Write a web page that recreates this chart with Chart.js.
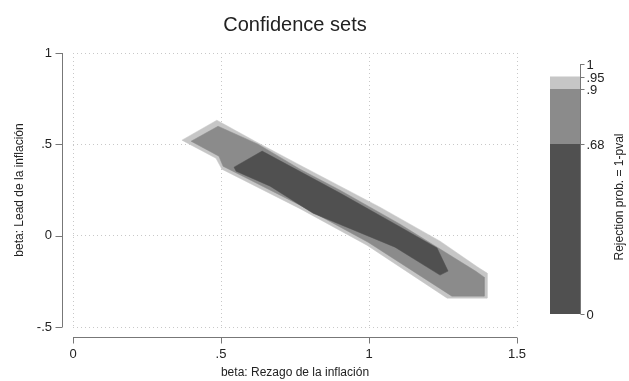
<!DOCTYPE html>
<html>
<head>
<meta charset="utf-8">
<title>Confidence sets</title>
<script src="https://cdn.jsdelivr.net/npm/chart.js@4.4.1/dist/chart.umd.min.js"></script>
<style>
    html, body { margin: 0; padding: 0; background: #fff; }
    #wrap { width: 629px; height: 381px; }
</style>
</head>
<body>
<div id="wrap"><canvas id="confChart" width="629" height="381"></canvas></div>
<script>
// ============================================================
// DATA — outlines of the rejection-probability regions
// (beta lag on x, beta lead on y)
// ============================================================
const band95X = [0.368, 0.486, 0.615, 0.767, 1.037, 1.240, 1.368, 1.399, 1.399, 1.264, 0.993, 0.767, 0.503, 0.483];
const band95Y = [0.523, 0.632, 0.517, 0.386, 0.156, -0.030, -0.173, -0.205, -0.342, -0.342, -0.052, 0.148, 0.364, 0.424];

const band90X = [0.399, 0.490, 0.625, 0.767, 0.902, 1.105, 1.361, 1.389, 1.389, 1.280, 0.997, 0.767, 0.507, 0.493];
const band90Y = [0.517, 0.599, 0.501, 0.364, 0.249, 0.063, -0.195, -0.227, -0.331, -0.331, -0.036, 0.167, 0.380, 0.435];

const band68X = [0.544, 0.639, 0.902, 1.095, 1.230, 1.267, 1.240, 1.088, 0.811, 0.666, 0.551];
const band68Y = [0.375, 0.463, 0.233, 0.057, -0.068, -0.194, -0.216, -0.063, 0.123, 0.271, 0.353];

const xTicks = [0, 0.5, 1, 1.5];
const yTicks = [-0.5, 0, 0.5, 1];

// contour cuts for the legend bar
const levelCuts = [0, 0.68, 0.9, 0.95];
const levelTicks = [0, 0.68, 0.9, 0.95, 1];
const levelLabels = ['0', '.68', '.9', '.95', '1'];
const bandColors = ['#505050', '#8b8b8b', '#c6c6c6'];

const FONT = "'Liberation Sans Narrow', 'Liberation Sans', Arial, sans-serif";
const TEXT = '#222';
const AXIS = '#777';

// Stata style numbers: .5 instead of 0.5
function stataNum(v) {
    return String(v).replace('0.', '.');
}

function polygon(xs, ys) {
    var pts = xs.map(function (x, i) { return { x: x, y: ys[i] }; });
    pts.push(pts[0]);
    return pts;
}

function bandDataset(label, xs, ys, color) {
    return {
        label: label,
        data: polygon(xs, ys),
        showLine: true,
        fill: 'shape',
        backgroundColor: color,
        borderColor: color,
        borderWidth: 0.5,
        pointRadius: 0,
        tension: 0
    };
}

// ============================================================
// PLUGIN — offset axes, titles and the colour legend bar
// ============================================================
const stataFrame = {
    id: 'stataFrame',
    afterDraw: function (chart) {
        var ctx = chart.ctx;
        var a = chart.chartArea;
        var xs = chart.scales.x;
        var ys = chart.scales.y;

        function seg(x1, y1, x2, y2) {
            ctx.beginPath();
            ctx.moveTo(x1, y1);
            ctx.lineTo(x2, y2);
            ctx.stroke();
        }

        ctx.save();
        ctx.strokeStyle = AXIS;
        ctx.lineWidth = 1;

        // y axis sits left of the plot region
        var yAxisX = Math.round(a.left - 11) + 0.5;
        seg(yAxisX, ys.getPixelForValue(1), yAxisX, ys.getPixelForValue(-0.5));
        yTicks.forEach(function (v) {
            var p = Math.round(ys.getPixelForValue(v)) + 0.5;
            seg(yAxisX - 7, p, yAxisX, p);
        });

        // x axis sits below the plot region
        var xAxisY = Math.round(a.bottom + 10) + 0.5;
        seg(xs.getPixelForValue(0), xAxisY, xs.getPixelForValue(1.5), xAxisY);
        xTicks.forEach(function (v) {
            var p = Math.round(xs.getPixelForValue(v)) + 0.5;
            seg(p, xAxisY, p, xAxisY + 6);
        });

        // titles
        ctx.fillStyle = TEXT;
        ctx.textAlign = 'center';
        ctx.textBaseline = 'middle';
        ctx.font = "20px 'Liberation Sans', Arial, sans-serif";
        ctx.fillText('Confidence sets', 295, 25);

        ctx.font = '12px ' + FONT;
        ctx.fillText('beta: Rezago de la inflación', (a.left + a.right) / 2, 373);

        ctx.save();
        ctx.translate(20, (a.top + a.bottom) / 2);
        ctx.rotate(-Math.PI / 2);
        ctx.fillText('beta: Lead de la inflación', 0, 0);
        ctx.restore();

        // colour legend bar, linear in rejection prob.
        var barL = 550, barR = 580, barBottom = 314, barSpan = 250;
        function barY(v) { return barBottom - v * barSpan; }

        for (var i = 0; i < bandColors.length; i++) {
            var top = barY(levelCuts[i + 1]);
            var bot = barY(levelCuts[i]);
            ctx.fillStyle = bandColors[i];
            ctx.fillRect(barL, top, barR - barL, bot - top);
        }

        var bx = barR + 0.5;
        seg(bx, barY(1), bx, barY(0));
        ctx.fillStyle = TEXT;
        ctx.textAlign = 'left';
        ctx.font = '13px ' + FONT;
        levelTicks.forEach(function (v, i) {
            var p = Math.round(barY(v)) + 0.5;
            seg(bx, p, bx + 4, p);
            ctx.fillText(levelLabels[i], bx + 6, p + 1);
        });

        ctx.font = '12px ' + FONT;
        ctx.textAlign = 'center';
        ctx.save();
        ctx.translate(620, 197);
        ctx.rotate(-Math.PI / 2);
        ctx.fillText('Rejection prob. = 1-pval', 0, 0);
        ctx.restore();

        ctx.restore();
    }
};

// ============================================================
// CHART
// ============================================================
new Chart(document.getElementById('confChart'), {
    type: 'scatter',
    data: {
        datasets: [
            bandDataset('0 - .68', band68X, band68Y, bandColors[0]),
            bandDataset('.68 - .9', band90X, band90Y, bandColors[1]),
            bandDataset('.9 - .95', band95X, band95Y, bandColors[2])
        ]
    },
    options: {
        responsive: false,
        animation: false,
        devicePixelRatio: 1,
        layout: { padding: { left: 0, top: 53, right: 112, bottom: 0 } },
        plugins: {
            legend: { display: false },
            tooltip: { enabled: false },
            title: { display: false }
        },
        scales: {
            x: {
                type: 'linear',
                min: 0,
                max: 1.5,
                afterBuildTicks: function (s) { s.ticks = xTicks.map(function (v) { return { value: v }; }); },
                afterFit: function (s) { s.height = 54; },
                grid: { color: '#c8c8c8', drawTicks: false },
                border: { display: false, dash: [1, 3] },
                ticks: {
                    padding: 20,
                    color: TEXT,
                    font: { family: FONT, size: 13 },
                    maxRotation: 0,
                    callback: function (v) { return stataNum(v); }
                }
            },
            y: {
                type: 'linear',
                min: -0.5,
                max: 1,
                afterBuildTicks: function (s) { s.ticks = yTicks.map(function (v) { return { value: v }; }); },
                afterFit: function (s) { s.width = 73; },
                grid: { color: '#c8c8c8', drawTicks: false },
                border: { display: false, dash: [1, 3] },
                ticks: {
                    padding: 21,
                    color: TEXT,
                    font: { family: FONT, size: 13 },
                    callback: function (v) { return stataNum(v); }
                }
            }
        }
    },
    plugins: [stataFrame]
});
</script>
</body>
</html>
